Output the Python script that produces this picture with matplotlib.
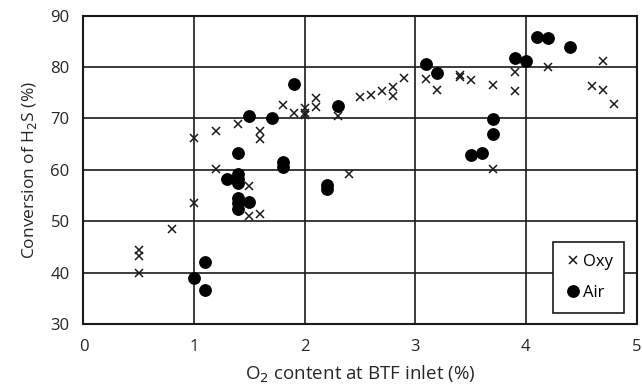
import matplotlib
matplotlib.use("Agg")
import matplotlib.pyplot as plt

plt.rcParams["font.family"] = ["Open Sans", "DejaVu Sans"]

# Oxy series
oxy_x = [0.5, 0.5, 0.5, 0.8, 1.0, 1.0, 1.2, 1.2, 1.4, 1.5, 1.5, 1.6, 1.6, 1.6,
         1.8, 1.9, 2.0, 2.0, 2.0, 2.1, 2.1, 2.3, 2.4, 2.5, 2.6, 2.7, 2.8, 2.8,
         2.9, 3.1, 3.2, 3.4, 3.4, 3.5, 3.7, 3.7, 3.9, 3.9, 4.2, 4.6, 4.7, 4.7, 4.8]
oxy_y = [44.5, 43.2, 39.9, 48.4, 66.2, 53.6, 67.6, 60.1, 68.9, 56.8, 51.0, 67.6,
         66.1, 51.4, 72.6, 71.0, 72.0, 71.0, 70.6, 73.9, 72.2, 70.5, 59.2, 74.1,
         74.6, 75.4, 76.2, 74.4, 77.9, 77.6, 75.5, 78.5, 78.0, 77.4, 76.5, 60.2,
         79.1, 75.4, 80.0, 76.3, 81.2, 75.5, 72.8]

# Air series
air_x = [1.0, 1.1, 1.1, 1.3, 1.4, 1.4, 1.4, 1.4, 1.4, 1.4, 1.4, 1.5, 1.5, 1.7,
         1.8, 1.8, 1.9, 2.2, 2.2, 2.3, 3.1, 3.2, 3.5, 3.6, 3.7, 3.7, 3.9, 4.0,
         4.1, 4.2, 4.4]
air_y = [38.9, 42.0, 36.6, 58.2, 63.2, 59.2, 58.3, 57.5, 54.6, 53.5, 52.4, 70.4,
         53.8, 70.0, 61.6, 60.5, 76.7, 57.1, 56.2, 72.4, 80.7, 78.8, 62.9, 63.3,
         69.9, 67.0, 81.7, 81.2, 85.9, 85.6, 84.0]

fig = plt.figure(figsize=(6.42, 3.89), dpi=100)
ax = fig.add_axes([0.130, 0.167, 0.8615, 0.7926])

ax.plot(oxy_x, oxy_y, linestyle="none", marker="x", markersize=6,
        markeredgewidth=1.1, color="#1a1a1a", label="Oxy", zorder=3)
ax.plot(air_x, air_y, linestyle="none", marker="o", markersize=8.2,
        color="black", label="Air", zorder=3)

ax.set_xlim(0, 5)
ax.set_ylim(30, 90)
ax.set_xticks(range(0, 6))
ax.set_yticks(range(30, 91, 10))
ax.grid(True, color="#1a1a1a", linewidth=1.2)
ax.set_axisbelow(True)
for s in ax.spines.values():
    s.set_color("#1a1a1a")
    s.set_linewidth(1.5)
ax.tick_params(length=0, labelsize=12, colors="#262626")
ax.tick_params(axis="y", pad=10)
ax.tick_params(axis="x", pad=11)

ax.set_xlabel("O$_2$ content at BTF inlet (%)", fontsize=13.5, color="#262626",
              labelpad=6)
ax.set_ylabel("Conversion of H$_2$S (%)", fontsize=12.5, color="#262626",
              labelpad=8)

leg = ax.legend(loc="lower right", bbox_to_anchor=(0.993, 0.01), fontsize=12,
                frameon=True, fancybox=False, edgecolor="#1a1a1a",
                handletextpad=0.1, handlelength=1.0, borderpad=0.7,
                labelspacing=0.9)
leg.get_frame().set_linewidth(1.2)
leg.get_frame().set_alpha(1)

fig.savefig("out.png", dpi=100)
